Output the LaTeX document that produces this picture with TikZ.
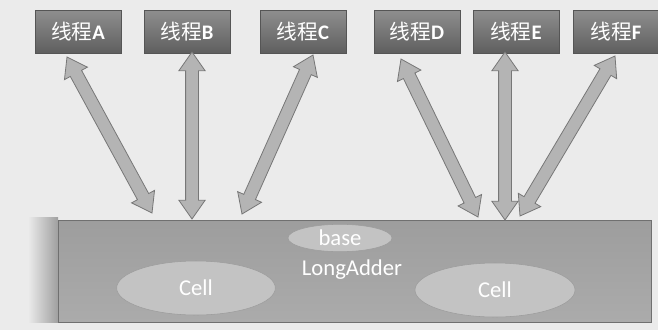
\documentclass[tikz,border=0pt]{standalone}
\usepackage{fontspec}
\setmainfont{Carlito}
\newfontfamily\cjk{Noto Sans CJK SC}
\usetikzlibrary{shapes.arrows,shapes.geometric,calc}

\definecolor{bggray}{HTML}{EBEBEB}
\definecolor{boxtop}{HTML}{8E8E8E}
\definecolor{boxbot}{HTML}{5E5E5E}
\definecolor{boxline}{HTML}{555555}
\definecolor{addfill}{HTML}{ABABAB}
\definecolor{addline}{HTML}{707070}
\definecolor{cellfill}{HTML}{C3C3C3}
\definecolor{arrfill}{HTML}{B4B4B4}
\definecolor{arrline}{HTML}{777777}

\begin{document}
\begin{tikzpicture}[x=0.75pt, y=-0.75pt]
\tikzstyle{thread}=[draw=boxline, top color=boxtop, bottom color=boxbot,
  minimum width=64.5pt, minimum height=32.5pt, inner sep=0pt,
  text=white, font=\fontsize{15.5}{16}\selectfont]
\tikzstyle{cellnode}=[ellipse, draw=cellfill!80!black, fill=cellfill,
  inner sep=0pt, text=white, font=\fontsize{17}{18}\selectfont]
\tikzstyle{fatarrow}=[double arrow, draw=arrline, fill=arrfill,
  inner xsep=0pt, inner ysep=4.5pt, double arrow head extend=5pt,
  double arrow tip angle=70, line width=0.6pt]

% background
\fill[bggray] (0,0) rectangle (658,330);
\useasboundingbox (0,0) rectangle (658,330);

% threads
\foreach \t/\x in {A/78,B/187,C/303,D/417,E/516,F/616}
  \node[thread] (t\t) at (\x,32) {{\cjk 线程}\textbf{\t}};

% LongAdder box with its shadow
\shade[left color=bggray, right color=gray!75] (28,217) rectangle (58,322);
\node[draw=addline, top color=addfill!92!black, bottom color=addfill,
      minimum width=444.75pt, minimum height=76.5pt, inner sep=0pt]
      (adder) at (354.5,271) {};
\node[cellnode, minimum width=78pt, minimum height=20.5pt]
      (base) at (340,238) {base};
\node[text=white, font=\fontsize{17}{18}\selectfont]
      (name) at (352,270) {LongAdder};
\node[cellnode, minimum width=119pt, minimum height=40.5pt]
      (cellA) at (196,288) {Cell};
\node[cellnode, minimum width=120pt, minimum height=40.5pt]
      (cellB) at (495,290) {Cell};

% arrow ends
\coordinate (uA) at (67,57);  \coordinate (dA) at (152,213);
\coordinate (uB) at (192,52); \coordinate (dB) at (192,219);
\coordinate (uC) at (313,55); \coordinate (dC) at (242,214);
\coordinate (uD) at (401,59); \coordinate (dD) at (478,217);
\coordinate (uE) at (505,52); \coordinate (dE) at (505,220);
\coordinate (uF) at (615,56); \coordinate (dF) at (520,216);

% threads <-> LongAdder
\foreach \t in {A,B,C,D,E,F}
  \path let \p1=($(d\t)-(u\t)$), \n1={atan2(\y1,\x1)},
        \n2={veclen(\x1,\y1)} in
    node[fatarrow, rotate=\n1, minimum height=\n2] (arr\t)
      at ($(u\t)!0.5!(d\t)$) {};
\end{tikzpicture}
\end{document}
